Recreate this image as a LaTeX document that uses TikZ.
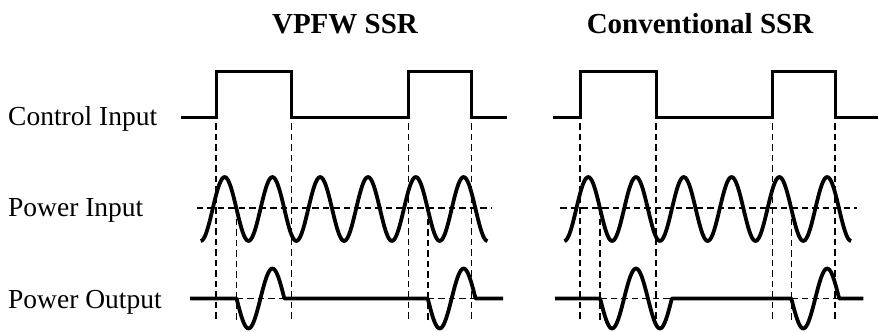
\documentclass[tikz,border=0pt]{standalone}
\usepackage{fontspec}
\setmainfont{Liberation Serif}
\begin{document}
\begin{tikzpicture}[x=1pt, y=-1pt,
  sig/.style={line width=3pt, line join=miter},
  wave/.style={line width=3.8pt, line join=round, smooth},
  guide/.style={line width=1.5pt, dash pattern=on 6.5pt off 4pt},
  rowlabel/.style={font=\fontsize{27.5}{30}\selectfont, anchor=base west, inner sep=0pt},
  paneltitle/.style={font=\fontsize{29}{32}\selectfont\bfseries, anchor=base, inner sep=0pt}]
  \useasboundingbox (0,0) rectangle (879,332);

  % row labels and titles
  \node[rowlabel] (ctrl) at (8,125) {Control Input};
  \node[rowlabel] (pin) at (8,216) {Power Input};
  \node[rowlabel] (pout) at (8,308) {Power Output};
  \node[paneltitle] (vpfw) at (345,33) {VPFW SSR};
  \node[paneltitle] (conv) at (700,33) {Conventional SSR};

  % VPFW SSR: guides
  \foreach \xx in {216,291.7,408.3,471.7}
    \draw[guide] (\xx,123) -- (\xx,320);
  \foreach \xx in {236.55,427.75}
    \draw[guide] (\xx,208) -- (\xx,320);
  \draw[guide] (196.7,208) -- (491.7,208);
  \draw[guide] (236.55,298.5) -- (284.35,298.5);
  \draw[guide] (427.75,298.5) -- (475.55,298.5);

  % VPFW SSR: control, power in, power out
  \draw[sig] (181,117.7) -| (216,71.7) -| (291.7,117.7) -| (408.3,71.7) -| (471.7,117.7) -- (507,117.7);
  \draw[wave] plot[domain=200.7:487.5, samples=200] (\x,{209+32*cos((\x-200.7)/47.8*360)});
  \draw[wave] (190,298.5) -- plot[domain=236.55:284.35, samples=40] (\x,{298.5+30*cos((\x-200.7)/47.8*360)})
    -- plot[domain=427.75:475.55, samples=40] (\x,{298.5+30*cos((\x-200.7)/47.8*360)}) -- (503,298.5);

  % Conventional SSR: guides
  \foreach \xx in {580,656,772.3,835}
    \draw[guide] (\xx,123) -- (\xx,320);
  \foreach \xx in {600.15,791.35}
    \draw[guide] (\xx,208) -- (\xx,320);
  \draw[guide] (560,208) -- (856.7,208);
  \draw[guide] (600.15,298.5) -- (671.85,298.5);
  \draw[guide] (791.35,298.5) -- (839.15,298.5);

  % Conventional SSR: control, power in, power out
  \draw[sig] (552.7,117.7) -| (580,71.7) -| (656,117.7) -| (772.3,71.7) -| (835,117.7) -- (878.3,117.7);
  \draw[wave] plot[domain=564.3:851.1, samples=200] (\x,{209+32*cos((\x-564.3)/47.8*360)});
  \draw[wave] (555,298.5) -- plot[domain=600.15:671.85, samples=60] (\x,{298.5+30*cos((\x-564.3)/47.8*360)})
    -- plot[domain=791.35:839.15, samples=40] (\x,{298.5+30*cos((\x-564.3)/47.8*360)}) -- (863.3,298.5);
\end{tikzpicture}
\end{document}
